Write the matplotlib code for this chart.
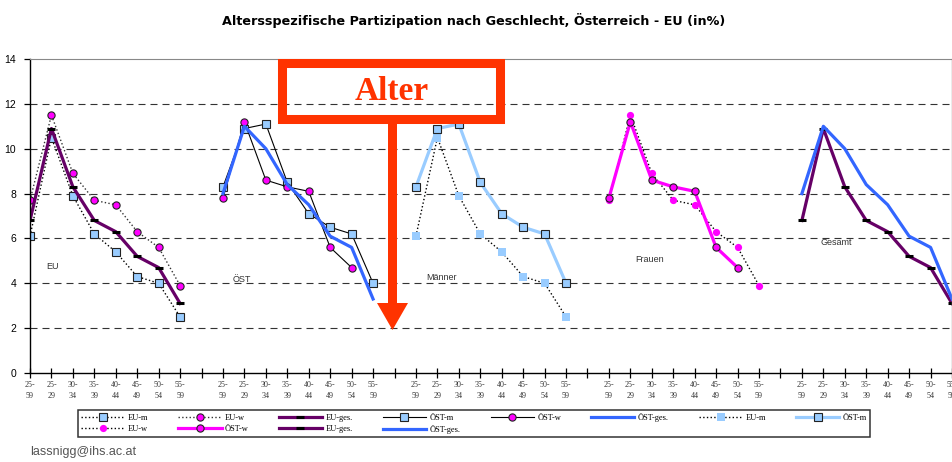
import matplotlib.pyplot as plt
import numpy as np
from matplotlib.patches import Rectangle, Polygon

W, H = 953, 462

# categories
ages = ['25-\n59', '25-\n29', '30-\n34', '35-\n39', '40-\n44', '45-\n49', '50-\n54', '55-\n59']
groups = ['EU', 'ÖST', 'Männer', 'Frauen', 'Gesamt']

# participation (in %) per age group
eu_m = [6.1, 10.5, 7.9, 6.2, 5.4, 4.3, 4.0, 2.5]
eu_w = [7.7, 11.5, 8.9, 7.7, 7.5, 6.3, 5.6, 3.9]
eu_ges = [6.8, 10.9, 8.3, 6.8, 6.3, 5.2, 4.7, 3.1]
ost_m = [8.3, 10.9, 11.1, 8.5, 7.1, 6.5, 6.2, 4.0]
ost_w = [7.8, 11.2, 8.6, 8.3, 8.1, 5.6, 4.7, np.nan]
ost_ges = [8.0, 11.0, 10.0, 8.4, 7.5, 6.1, 5.6, 3.3]

purple = '#660066'
blue = '#3366FF'
lblue = '#99CCFF'
magenta = '#FF00FF'
red = '#FF3300'

fig = plt.figure(figsize=(W / 100, H / 100), dpi=100)
ax = fig.add_axes([30 / W, (H - 373) / H, 922 / W, 314 / H])

n = len(ages)
step = n + 1
def xs(g):
    return np.arange(n) + g * step

# gridlines
for yv in range(2, 14, 2):
    ax.axhline(yv, color='#333333', lw=0.8, dashes=(6.3, 4.5), zorder=0)

# group EU
l_eu_m1, = ax.plot(xs(0), eu_m, ls=':', color='black', lw=1, marker='s', ms=5.2,
                   mfc=lblue, mec='#222222', mew=0.8)
l_eu_w1, = ax.plot(xs(0), eu_w, ls=':', color='#333333', lw=1, marker='o', ms=5.2,
                   mfc=magenta, mec='#222222', mew=0.8)
l_eu_ges1, = ax.plot(xs(0), eu_ges, ls='-', color=purple, lw=2.3, marker='_', ms=6,
                     mec='black', mew=2.2)

# group ÖST
l_ost_m2, = ax.plot(xs(1), ost_m, ls='-', color='black', lw=0.8, marker='s', ms=5.2,
                    mfc=lblue, mec='#222222', mew=0.8)
l_ost_w2, = ax.plot(xs(1), ost_w, ls='-', color='black', lw=0.8, marker='o', ms=5.2,
                    mfc=magenta, mec='#222222', mew=0.8)
l_ost_ges2, = ax.plot(xs(1), ost_ges, ls='-', color=blue, lw=2.3)

# group Männer
l_eu_m3, = ax.plot(xs(2), eu_m, ls=':', color='black', lw=1, marker='s', ms=5.2,
                   mfc=lblue, mec=lblue, mew=0)
l_ost_m3, = ax.plot(xs(2), ost_m, ls='-', color=lblue, lw=2.3, marker='s', ms=5.2,
                    mfc=lblue, mec='#222222', mew=0.8)

# group Frauen
l_eu_w4, = ax.plot(xs(3), eu_w, ls=':', color='black', lw=1, marker='o', ms=5.2,
                   mfc=magenta, mec=magenta, mew=0)
l_ost_w4, = ax.plot(xs(3), ost_w, ls='-', color=magenta, lw=2.3, marker='o', ms=5.2,
                    mfc=magenta, mec='#222222', mew=0.8)

# group Gesamt
l_eu_ges5, = ax.plot(xs(4), eu_ges, ls='-', color=purple, lw=2.3, marker='_', ms=6,
                     mec='black', mew=2.2)
l_ost_ges5, = ax.plot(xs(4), ost_ges, ls='-', color=blue, lw=2.3)

# group labels
label_pos = [(1.03, 4.73), (9.9, 4.15), (19.2, 4.28), (28.9, 5.08), (37.6, 5.8)]
for name, (gx, gy) in zip(groups, label_pos):
    ax.text(gx, gy, name, fontsize=6.5, color='#333333', ha='center', va='center',
            family='Liberation Sans')

ax.set_xlim(0, step * len(groups) - 2)
ax.set_ylim(0, 14)
ticks = np.arange(step * len(groups) - 1)
ax.set_xticks(ticks)
tick_labels = []
for g in range(len(groups)):
    tick_labels += ages
    if g < len(groups) - 1:
        tick_labels.append('')
ax.set_xticklabels(tick_labels, fontsize=5.8, family='Liberation Serif', color='#333333')
for lab in ax.get_xticklabels():
    lab.set_linespacing(1.6)
ax.tick_params(axis='x', direction='inout', length=7, width=0.9, pad=2)
ax.set_yticks(range(0, 15, 2))
ax.set_yticklabels([str(v) for v in range(0, 15, 2)], fontsize=7.5, family='Liberation Sans')
ax.tick_params(axis='y', direction='out', length=4, width=0.9, pad=6)

ax.spines['left'].set_linewidth(1)
ax.spines['bottom'].set_linewidth(1)
ax.spines['top'].set_color('#888888')
ax.spines['top'].set_linewidth(0.8)
ax.spines['right'].set_color('#999999')
ax.spines['right'].set_linewidth(1)

# legend, row-wise order as in the original
row1 = [(l_eu_m1, 'EU-m'), (l_eu_w1, 'EU-w'), (l_eu_ges1, 'EU-ges.'), (l_ost_m2, 'ÖST-m'),
        (l_ost_w2, 'ÖST-w'), (l_ost_ges2, 'ÖST-ges.'), (l_eu_m3, 'EU-m'), (l_ost_m3, 'ÖST-m')]
row2 = [(l_eu_w4, 'EU-w'), (l_ost_w4, 'ÖST-w'), (l_eu_ges5, 'EU-ges.'), (l_ost_ges5, 'ÖST-ges.')]
order = []
for i in range(len(row1)):
    order.append(row1[i])
    if i < len(row2):
        order.append(row2[i])
leg = fig.legend([h for h, _ in order], [t for _, t in order], ncol=8,
                 loc='lower left', bbox_to_anchor=(78 / W, 1 - 437 / H, 792 / W, 25 / H),
                 mode='expand', prop={'family': 'Liberation Serif', 'size': 6},
                 frameon=True, fancybox=False, edgecolor='black', borderaxespad=0,
                 handlelength=5.2, handletextpad=0.4, labelspacing=0.35, borderpad=0.35,
                 columnspacing=0.5)
leg.get_frame().set_linewidth(1.1)

# title and footer
fig.text(473.5 / W, 1 - 20 / H, 'Altersspezifische Partizipation nach Geschlecht, Österreich - EU (in%)',
         ha='center', va='center', fontsize=9.2, fontweight='bold', family='DejaVu Sans')
fig.text(30 / W, 1 - 452 / H, 'lassnigg@ihs.ac.at', ha='left', va='center', fontsize=9,
         color='#555555', family='Liberation Sans')

# "Alter" box with arrow
fig.add_artist(Rectangle((282.5 / W, 1 - 118.5 / H), 218 / W, 55 / H, fill=False,
                         edgecolor=red, lw=6.5, joinstyle='miter', transform=fig.transFigure))
fig.text(392 / W, 1 - 92 / H, 'Alter', ha='center', va='center', fontsize=24,
         fontweight='bold', family='Liberation Serif', color=red)
fig.add_artist(Rectangle((388 / W, 1 - 304 / H), 9 / W, 181 / H, facecolor=red,
                         edgecolor='none', transform=fig.transFigure))
fig.add_artist(Polygon([(377 / W, 1 - 303 / H), (408 / W, 1 - 303 / H), (392.5 / W, 1 - 330 / H)],
                       closed=True, facecolor=red, edgecolor='none', transform=fig.transFigure))

fig.savefig('out.png', dpi=100)
